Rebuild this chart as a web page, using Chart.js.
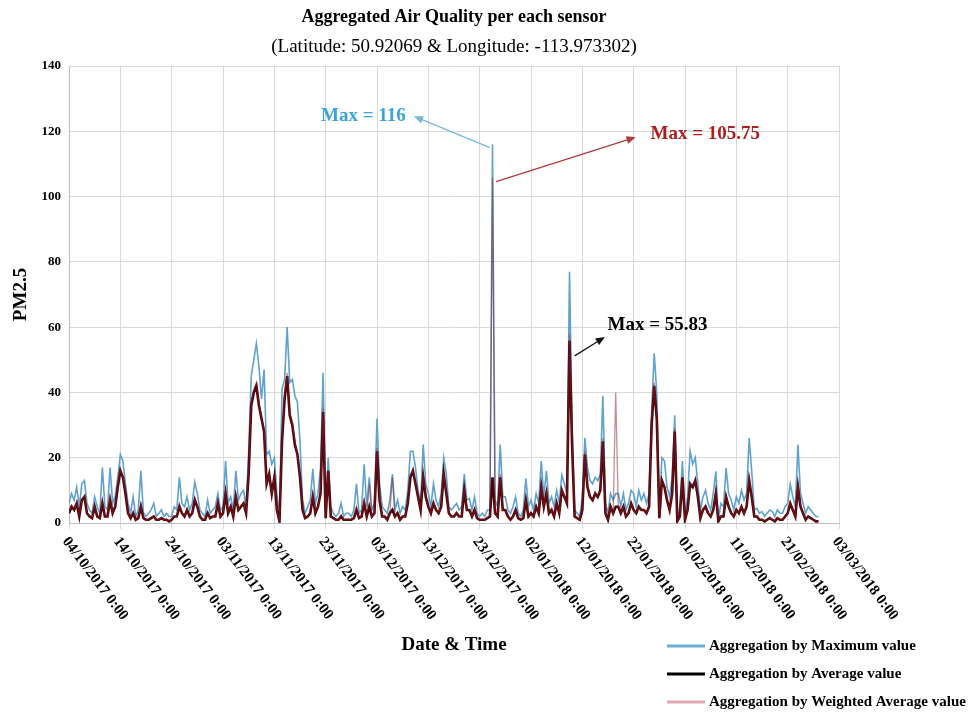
<!DOCTYPE html>
<html>
<head>
<meta charset="utf-8">
<script src="https://cdn.jsdelivr.net/npm/chart.js@4.4.1/dist/chart.umd.min.js"></script>
<style>
  html, body { margin: 0; padding: 0; background: #fff; }
</style>
</head>
<body>
<canvas id="chart" width="980" height="712"></canvas>
<script>
// one reading every 12 hours, day 0 = 04/10/2017 0:00
const stepDays = 0.5;

const chartTitle = "Aggregated Air Quality per each sensor";
const chartSubtitle = "(Latitude: 50.92069 & Longitude: -113.973302)";
const yTitle = "PM2.5";
const xTitle = "Date & Time";

const xTickLabels = [
  "04/10/2017 0:00", "14/10/2017 0:00", "24/10/2017 0:00", "03/11/2017 0:00",
  "13/11/2017 0:00", "23/11/2017 0:00", "03/12/2017 0:00", "13/12/2017 0:00",
  "23/12/2017 0:00", "02/01/2018 0:00", "12/01/2018 0:00", "22/01/2018 0:00",
  "01/02/2018 0:00", "11/02/2018 0:00", "21/02/2018 0:00", "03/03/2018 0:00"
];

const seriesNames = [
  "Aggregation by Maximum value",
  "Aggregation by Average value",
  "Aggregation by Weighted Average value"
];

const maxVals = [
  6, 9, 7, 11, 5, 12, 13, 6, 4, 3,
  8, 5, 3, 17, 5, 4, 17, 6, 8, 14,
  21, 19, 12, 6, 3, 8, 2, 4, 16, 3,
  2, 3, 4, 6, 2, 3, 4, 2, 3, 2,
  2, 5, 4, 14, 6, 5, 8, 4, 6, 12.5,
  9, 4, 3, 2, 7, 3, 4, 5, 9, 4,
  5, 19, 6, 8, 4, 16, 7, 9, 10, 5,
  22, 45, 50, 55, 48, 38, 47, 21, 22, 18,
  20, 9, 1, 41, 44, 60, 43, 44, 39, 37,
  25, 7, 3, 5, 7, 16.6, 6, 9, 17, 46,
  3, 20, 5, 3, 2, 3, 6, 2, 3, 3,
  2, 4, 12, 3, 4, 18, 5, 14, 4, 6,
  32, 12, 5, 4, 3, 7, 15, 4, 7, 3,
  5, 4, 10, 22, 22, 17, 10, 6, 24, 12,
  9, 5, 12, 7, 5, 9, 20, 15, 5, 4,
  5, 6, 4, 5, 15, 7, 7.5, 4, 8, 3,
  2, 3, 2, 4, 4, 116, 7, 5, 24, 8,
  8, 4, 3, 5, 8, 3, 2, 4, 13.7, 5,
  7, 4, 9, 6, 19, 8, 16, 6, 8, 5,
  10, 6, 14.7, 12, 9, 77, 30, 4, 3, 2,
  8, 26, 17, 13, 12, 14, 13, 15, 39, 6,
  3, 9, 7, 9, 9, 5, 9, 4, 6, 10,
  9, 5, 10, 7, 9, 6, 9, 34, 52, 40,
  3, 20, 19, 11, 8, 14, 33, 1, 5, 19,
  2, 8, 22, 18, 20, 12, 4, 8, 10, 6,
  4, 9, 15.8, 1, 6, 5, 16.8, 9, 7, 4,
  8, 6, 10, 7, 9, 26, 15.8, 4, 4.5, 3,
  3.5, 2, 3, 4, 3.5, 2, 4, 3, 3, 5,
  6, 12, 8, 5, 24, 9, 6, 3, 5, 4,
  3, 2,
  2
];

const avgVals = [
  3, 5, 4, 6, 2, 7, 8, 3, 2, 1.5,
  5, 2, 1.5, 6, 2, 2, 7, 3, 5, 11,
  16, 14, 9, 3, 1.5, 3, 1, 1.5, 5, 1.5,
  1, 1, 1.5, 2, 1, 1, 1.5, 1, 1, 0.5,
  1, 2, 2, 5, 3, 2, 4, 2, 3, 7,
  5, 2, 1, 1, 3, 1.5, 2, 2, 6, 2,
  3, 9, 3, 5, 2, 8, 4, 5, 6, 3,
  15, 36, 40, 42, 36, 32, 28, 12, 15, 9,
  14, 4, 0.5, 25, 38, 45, 33, 30, 24, 21,
  14, 4, 1.5, 2, 3, 8, 3, 5, 9, 34,
  1.5, 16, 2, 1.5, 1, 1, 2, 1, 1, 1,
  1, 1.5, 4, 1.5, 2, 6, 2, 5, 2, 3,
  22, 7, 2, 2, 1, 3, 4, 2, 3, 1,
  2, 2, 6, 14, 16, 12, 8, 4, 14, 8,
  5, 3, 6, 4, 3, 5, 15, 9, 3, 2,
  2, 3, 2, 2, 10, 4, 4, 2, 4, 1.5,
  1, 1, 1, 1.5, 2, 14, 3, 2, 14, 4,
  4, 2, 1, 2, 4, 1.5, 1, 1.5, 7, 2,
  3, 2, 5, 3, 11, 5, 9, 3, 4, 2,
  6, 3, 10, 8, 6, 55.83, 24, 2, 1.5, 1,
  4, 21, 11, 8, 7, 9, 8, 10, 25, 3,
  1, 5, 3, 5, 5, 3, 5, 2, 3, 6,
  4, 3, 5, 4, 4, 3, 5, 30, 42, 32,
  1.5, 13, 11, 7, 4, 9, 28, 0.5, 2, 14,
  1, 4, 12, 11, 13, 8, 1.5, 4, 5, 3,
  2, 4, 9, 0.5, 2, 2, 8, 5, 3, 2,
  4, 3, 5, 3, 5, 13, 8, 2, 2, 1,
  1, 0.5, 1, 1.5, 1, 0.5, 1.5, 1, 1, 2,
  3, 6, 4, 2, 11, 5, 3, 1, 2, 1.5,
  1, 0.5,
  0.5
];

const wavgVals = [
  3.5, 5.5, 4, 6.5, 2.5, 7, 8.5, 3, 2, 1.5,
  5.5, 2, 1.5, 7, 2, 2, 8, 3, 5.5, 11.5,
  16.5, 14, 9.5, 3, 1.5, 3.5, 1, 1.5, 6, 1.5,
  1, 1, 1.5, 2, 1, 1, 1.5, 1, 1, 0.5,
  1, 2, 2, 6, 3, 2, 4.5, 2, 3, 8,
  5, 2, 1, 1, 3.5, 1.5, 2, 2, 6.5, 2,
  3, 10, 3.5, 5, 2, 9, 4, 5.5, 6, 3,
  16, 37, 41, 43, 37, 32, 29, 12, 15, 9,
  14, 4, 0.5, 26, 39, 46, 34, 31, 25, 21,
  14, 4, 1.5, 2, 3, 9, 3, 5, 9.5, 35,
  1.5, 16, 2, 1.5, 1, 1, 2.5, 1, 1, 1,
  1, 1.5, 5, 1.5, 2, 7, 2, 12, 2, 3,
  23, 7, 2, 2, 1, 3, 14, 2, 3, 1,
  2, 2, 6.5, 15, 16, 12, 8, 4, 15, 8,
  5, 3, 6.5, 4, 3, 5, 15, 9, 3, 2,
  2, 3, 2, 2, 11, 4, 4, 2, 4, 1.5,
  1, 1, 1, 1.5, 2, 105.75, 3, 2, 15, 4,
  4, 2, 1, 2, 4, 1.5, 1, 1.5, 7.5, 2,
  3, 2, 5, 3, 12, 5, 10, 3, 4, 2,
  6, 3, 10.5, 8, 6, 58, 25, 2, 1.5, 1,
  4, 22, 11, 8, 7, 9.5, 8, 10, 26, 3,
  1, 5, 3, 40, 5, 3, 5, 2, 3, 6,
  4, 3, 5, 4, 4, 3, 5, 31, 43, 33,
  1.5, 13, 11.5, 7, 4, 9, 29, 0.5, 2, 14,
  1, 4, 12, 11.5, 13, 8, 1.5, 4, 5.5, 3,
  2, 4, 9.5, 0.5, 2, 2, 8.5, 5, 3, 2,
  4, 3, 5, 3, 5, 14, 8.5, 2, 2, 1,
  1, 0.5, 1, 1.5, 1, 0.5, 1.5, 1, 1, 2,
  3, 6.5, 4, 2, 12, 5, 3, 1, 2, 1.5,
  1, 0.5,
  0.5
];

// call-outs, in data units (days, PM2.5)
const callouts = [
  { text: "Max = 116", color: "#3aa3d8", line: "#79b7dc", from: [82.0, 115], to: [67.2, 124.6], at: [65.6, 124.6], align: "right" },
  { text: "Max = 105.75", color: "#ad1f1f", line: "#b03a3a", from: [83.2, 104.6], to: [110.4, 118.2], at: [113.3, 119], align: "left" },
  { text: "Max = 55.83", color: "#000", line: "#111", from: [98.5, 51.2], to: [104.4, 57.0], at: [104.9, 60.7], align: "left" }
];

const serif = "'Liberation Serif', 'Times New Roman', serif";
const legendColors = ["#6aaed3", "#000000", "#e2a9b1"];

const toPoints = vals => vals.map((v, i) => ({ x: i * stepDays, y: v }));

function arrow(ctx, x1, y1, x2, y2, color) {
  const ang = Math.atan2(y2 - y1, x2 - x1);
  const head = 10;
  ctx.strokeStyle = color;
  ctx.fillStyle = color;
  ctx.lineWidth = 1.2;
  ctx.beginPath();
  ctx.moveTo(x1, y1);
  ctx.lineTo(x2 - Math.cos(ang) * head * 0.8, y2 - Math.sin(ang) * head * 0.8);
  ctx.stroke();
  ctx.beginPath();
  ctx.moveTo(x2, y2);
  ctx.lineTo(x2 - head * Math.cos(ang - 0.4), y2 - head * Math.sin(ang - 0.4));
  ctx.lineTo(x2 - head * Math.cos(ang + 0.4), y2 - head * Math.sin(ang + 0.4));
  ctx.closePath();
  ctx.fill();
}

const decor = {
  id: "decor",
  afterDraw(chart) {
    const { ctx, chartArea: a, scales: { x, y } } = chart;
    const cx = (a.left + a.right) / 2;
    ctx.save();
    ctx.fillStyle = "#000";
    ctx.textAlign = "center";
    ctx.textBaseline = "middle";
    ctx.font = "bold 18px " + serif;
    ctx.fillText(chartTitle, cx, 17);
    ctx.font = "19px " + serif;
    ctx.fillText(chartSubtitle, cx, 47);

    // y axis title
    ctx.save();
    ctx.translate(21, (a.top + a.bottom) / 2);
    ctx.rotate(-Math.PI / 2);
    ctx.font = "bold 19px " + serif;
    ctx.fillText(yTitle, 0, 0);
    ctx.restore();

    // slanted date labels
    ctx.font = "bold 15px " + serif;
    ctx.textAlign = "left";
    xTickLabels.forEach((lab, i) => {
      const px = x.getPixelForValue(i * 10);
      ctx.save();
      ctx.translate(px - 4, a.bottom + 16);
      ctx.rotate(53 * Math.PI / 180);
      ctx.fillText(lab, 0, 0);
      ctx.restore();
    });

    ctx.textAlign = "center";
    ctx.font = "bold 19px " + serif;
    ctx.fillText(xTitle, cx, 645);

    // legend
    ctx.font = "bold 15px " + serif;
    ctx.textAlign = "left";
    seriesNames.forEach((name, i) => {
      const ly = 646 + i * 28;
      ctx.strokeStyle = legendColors[i];
      ctx.lineWidth = 3;
      ctx.beginPath();
      ctx.moveTo(667, ly);
      ctx.lineTo(705, ly);
      ctx.stroke();
      ctx.fillStyle = "#000";
      ctx.fillText(name, 709, ly);
    });

    // call-outs
    callouts.forEach(c => {
      arrow(ctx, x.getPixelForValue(c.from[0]), y.getPixelForValue(c.from[1]),
        x.getPixelForValue(c.to[0]), y.getPixelForValue(c.to[1]), c.line);
      ctx.fillStyle = c.color;
      ctx.font = "bold 19px " + serif;
      ctx.textAlign = c.align;
      ctx.fillText(c.text, x.getPixelForValue(c.at[0]), y.getPixelForValue(c.at[1]));
    });
    ctx.restore();
  }
};

new Chart(document.getElementById("chart"), {
  type: "line",
  data: {
    datasets: [
      { label: seriesNames[0], data: toPoints(maxVals), borderColor: "#5fa2cf", borderWidth: 1.6, order: 3 },
      { label: seriesNames[1], data: toPoints(avgVals), borderColor: "#4d0404", borderWidth: 2.6, order: 2 },
      { label: seriesNames[2], data: toPoints(wavgVals), borderColor: "rgba(140,30,45,0.5)", borderWidth: 1.3, order: 1 }
    ]
  },
  options: {
    responsive: false,
    animation: false,
    elements: { point: { radius: 0 }, line: { tension: 0 } },
    layout: { padding: { top: 66, right: 141, left: 0, bottom: 0 } },
    plugins: { legend: { display: false }, tooltip: { enabled: false } },
    scales: {
      x: {
        type: "linear", min: 0, max: 150,
        ticks: { stepSize: 10, display: false },
        grid: { color: "#d9d9d9", tickLength: 6 },
        border: { color: "#bfbfbf" },
        afterFit: s => { s.height = 189; }
      },
      y: {
        min: 0, max: 140,
        ticks: { stepSize: 20, padding: 8, color: "#000", font: { family: serif, size: 13, weight: "bold" } },
        grid: { color: "#d9d9d9", drawTicks: false },
        border: { color: "#bfbfbf" },
        afterFit: s => { s.width = 69; }
      }
    }
  },
  plugins: [decor]
});
</script>
</body>
</html>
